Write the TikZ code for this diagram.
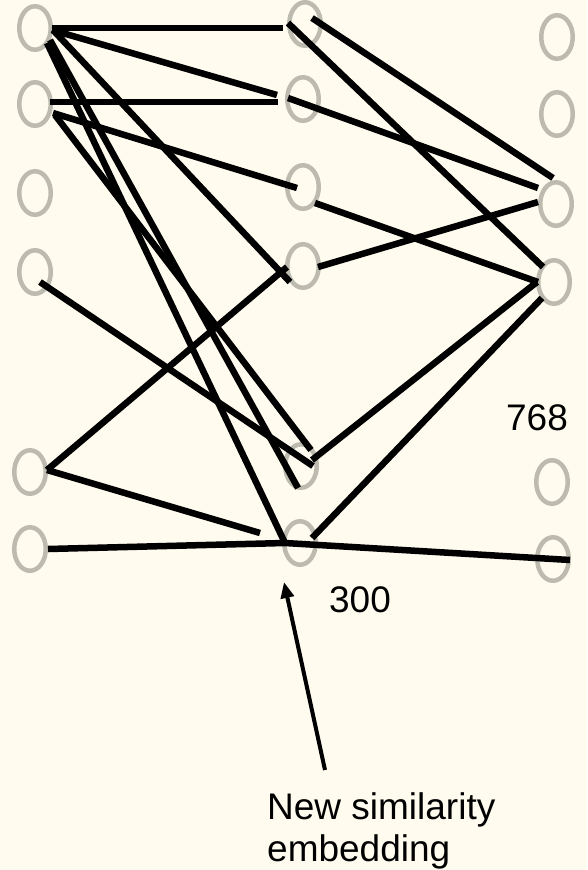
\documentclass[tikz,border=0pt]{standalone}
\usepackage{fontspec}
\setmainfont{Liberation Sans}
\usetikzlibrary{calc,arrows.meta,shapes.geometric}
\definecolor{paper}{HTML}{FFFBEF}
\definecolor{ring}{HTML}{BDBBB0}
\begin{document}
\begin{tikzpicture}[x=1pt,y=-1pt,
  unit/.style={ellipse, draw=ring, line width=4.5pt, minimum width=31.5pt,
               minimum height=43.5pt, inner sep=0pt},
  link/.style={line width=6.5pt, draw=black},
  pointer/.style={line width=4pt, draw=black,
                  -{Triangle[length=16pt,width=13pt]}},
  caption/.style={font=\fontsize{37}{42}\selectfont, inner sep=0pt}]

% canvas
\fill[paper] (0,0) rectangle (587,870);
\useasboundingbox (0,0) rectangle (587,870);

% input layer
\node[unit] (L1) at (35,28)  {};
\node[unit] (L2) at (35,104) {};
\node[unit] (L3) at (35,193) {};
\node[unit] (L4) at (35,272) {};
\node[unit] (L5) at (30,472) {};
\node[unit] (L6) at (30,549) {};

% hidden layer (300)
\node[unit] (M1) at (305,24)  {};
\node[unit] (M2) at (303,99)  {};
\node[unit] (M3) at (303,187) {};
\node[unit] (M4) at (303,266) {};
\node[unit] (M5) at (301,466) {};
\node[unit] (M6) at (300,543) {};

% output layer (768)
\node[unit] (R1) at (557,37)  {};
\node[unit] (R2) at (557,114) {};
\node[unit] (R3) at (556,204) {};
\node[unit] (R4) at (554,282) {};
\node[unit] (R5) at (552,482) {};
\node[unit] (R6) at (553,559) {};

% input -> hidden
\draw[link] ($(L1)+(17,0)$)  -- ($(M1)+(-22,4)$);
\draw[link] ($(L1)+(17,2)$)  -- ($(M2)+(-26,-4)$);
\draw[link] ($(L1)+(18,2)$)  -- ($(M4)+(-13,16)$);
\draw[link] ($(L1)+(15,12)$) -- ($(M5)+(-3,22)$);
\draw[link] ($(L1)+(12,15)$) -- ($(M6)+(-15,0)$);
\draw[link] ($(L2)+(15,-2)$) -- ($(M2)+(-25,3)$);
\draw[link] ($(L2)+(18,9)$)  -- ($(M3)+(-6,1)$);
\draw[link] ($(L2)+(20,11)$) -- ($(M5)+(10,-16)$);
\draw[link] ($(L4)+(5,10)$)  -- ($(M5)+(12,0)$);
\draw[link] ($(L5)+(17,-2)$) -- ($(M4)+(-16,1)$);
\draw[link] ($(L5)+(17,-2)$) -- ($(M6)+(-40,-10)$);
\draw[link] ($(L6)+(18,0)$)  -- ($(M6)+(-15,0)$) -- ($(R6)+(17,1)$);

% hidden -> output
\draw[link] ($(M1)+(7,-6)$)   -- ($(R3)+(-3,-26)$);
\draw[link] ($(M1)+(-17,-1)$) -- ($(R4)+(-11,-15)$);
\draw[link] ($(M2)+(-15,-1)$) -- ($(R3)+(-18,-16)$);
\draw[link] ($(M3)+(12,16)$)  -- ($(R4)+(-16,0)$);
\draw[link] ($(M4)+(15,1)$)   -- ($(R3)+(-18,-2)$);
\draw[link] ($(M5)+(11,-6)$)  -- ($(R4)+(-17,0)$);
\draw[link] ($(M6)+(12,-5)$)  -- ($(R4)+(-12,16)$);

% layer sizes
\node[caption] (n768) at (537,418) {768};
\node[caption] (n300) at (360,600) {300};

% annotation
\node[caption, align=left, anchor=north west] (note) at (267,792)
  {New similarity\\embedding};
\coordinate (tail) at (325,770);
\coordinate (head) at (284,582);
\draw[pointer] (tail) -- (head);
\end{tikzpicture}
\end{document}
